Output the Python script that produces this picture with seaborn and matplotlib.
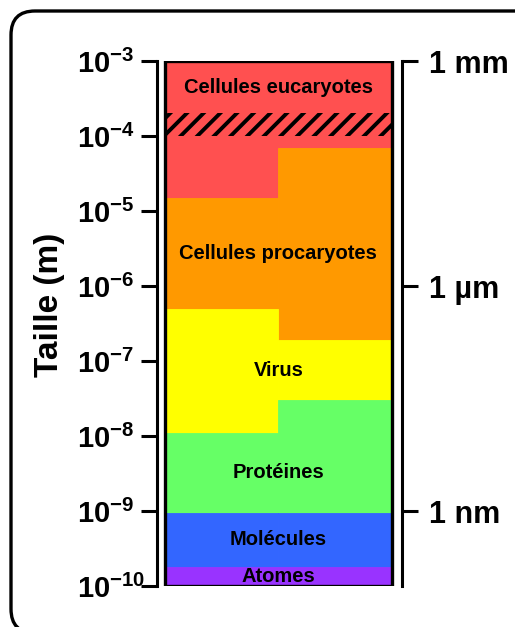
"""échelle des tailles du vivant : barre empilée sur axe logarithmique"""
import matplotlib.pyplot as plt
import numpy as np
import pandas as pd
import seaborn as sns
from matplotlib.patches import FancyBboxPatch, Rectangle

# groupes, du plus grand au plus petit
groups = ["Cellules eucaryotes", "Cellules procaryotes", "Virus", "Protéines",
          "Molécules", "Atomes"]
colors = ["#ff5050", "#ff9900", "#ffff00", "#66ff66", "#3366ff", "#9933ff"]
columns = ["gauche", "droite"]
# limite supérieure (m) de chaque groupe dans les deux demi-colonnes
upper_left = [1e-3, 1.5e-5, 5e-7, 1.1e-8, 9.5e-10, 1.8e-10]
upper_right = [1e-3, 7e-5, 1.9e-7, 3e-8, 9.5e-10, 1.8e-10]
y_min = 1e-10
# zone hachurée (incertitude eucaryotes)
hatch_low, hatch_high = 1e-4, 2e-4
left_ticks = [1e-10, 1e-9, 1e-8, 1e-7, 1e-6, 1e-5, 1e-4, 1e-3]
right_ticks = [1e-3, 1e-6, 1e-9]
right_labels = ["1 mm", "1 µm", "1 nm"]


def build_table():
    rows = []
    for col, uppers in zip(columns, [upper_left, upper_right]):
        lowers = uppers[1:] + [y_min]
        for g, hi, lo in zip(groups, uppers, lowers):
            rows.append({"group": g, "column": col, "low": lo, "high": hi})
    df = pd.DataFrame(rows)
    df["height"] = df["high"] - df["low"]
    return df


sns.set_theme(style="white")
plt.rcParams["font.family"] = ["Liberation Sans", "DejaVu Sans"]
plt.rcParams["font.weight"] = "bold"
plt.rcParams["mathtext.default"] = "regular"
plt.rcParams["hatch.linewidth"] = 2.8

df = build_table()

fig = plt.figure(figsize=(5.15, 6.27), dpi=100)
ax = fig.add_axes([157 / 515, 41 / 627, 245 / 515, 525 / 627])
ax.set_yscale("log")

for g, color in zip(groups, colors):
    sub = df[df["group"] == g].set_index("column").loc[columns].reset_index()
    sns.barplot(data=sub, x="column", y="height", order=columns, color=color,
                saturation=1, width=1, bottom=sub["low"].values, errorbar=None,
                linewidth=0.6, edgecolor=color, ax=ax)

# bande hachurée sur toute la largeur
ax.bar(0.5, hatch_high - hatch_low, width=2, bottom=hatch_low, fill=False,
       hatch="//", edgecolor="black", linewidth=0)

# contour de la barre
ax.add_patch(Rectangle((-0.5, y_min), 2, 1e-3 - y_min, fill=False,
                       edgecolor="black", linewidth=2.4, zorder=5))

# étiquettes des groupes au centre de la zone commune
for g in groups:
    sub = df[df["group"] == g]
    lo = sub["low"].max()
    hi = sub["high"].min()
    if g == groups[0]:
        lo = hatch_high
    ax.text(0.5, np.sqrt(lo * hi), g, ha="center", va="center",
            fontsize=14.5, fontweight="bold", color="black", zorder=6)

ax.set_xlim(-0.57, 1.59)
ax.set_ylim(y_min, 1e-3)
ax.set_xticks([])
ax.set_xlabel("")
ax.set_yticks(left_ticks)
ax.minorticks_off()
ax.tick_params(axis="y", which="both", left=True, length=11.5, width=2.2,
               labelsize=21, pad=46, color="black", labelcolor="black")
plt.setp(ax.get_yticklabels(), ha="left")
for s in ["top", "right", "bottom"]:
    ax.spines[s].set_visible(False)
ax.spines["left"].set_linewidth(2.2)
ax.spines["left"].set_color("black")
ax.set_ylabel("Taille (m)", fontsize=24, fontweight="bold", color="black")
ax.yaxis.set_label_coords(-0.375, 0.535)

ax2 = ax.twinx()
ax2.set_yscale("log")
ax2.set_ylim(y_min, 1e-3)
ax2.set_yticks(right_ticks)
ax2.set_yticklabels(right_labels)
ax2.minorticks_off()
ax2.tick_params(axis="y", which="both", right=True, length=11.5, width=2.2,
                labelsize=22, pad=8, color="black", labelcolor="black")
plt.setp(ax2.get_yticklabels(), fontweight="bold")
for s in ["top", "left", "bottom"]:
    ax2.spines[s].set_visible(False)
ax2.spines["right"].set_linewidth(2.2)
ax2.spines["right"].set_color("black")

# cadre arrondi autour de la figure (coupé à droite et en bas)
frame = FancyBboxPatch((0.11, -0.06), 5.30, 6.22,
                       boxstyle="round,pad=0,rounding_size=0.24",
                       transform=fig.dpi_scale_trans, fill=False,
                       edgecolor="black", linewidth=2.4, clip_on=False)
fig.add_artist(frame)

fig.savefig("out.png", dpi=100, facecolor="white")
